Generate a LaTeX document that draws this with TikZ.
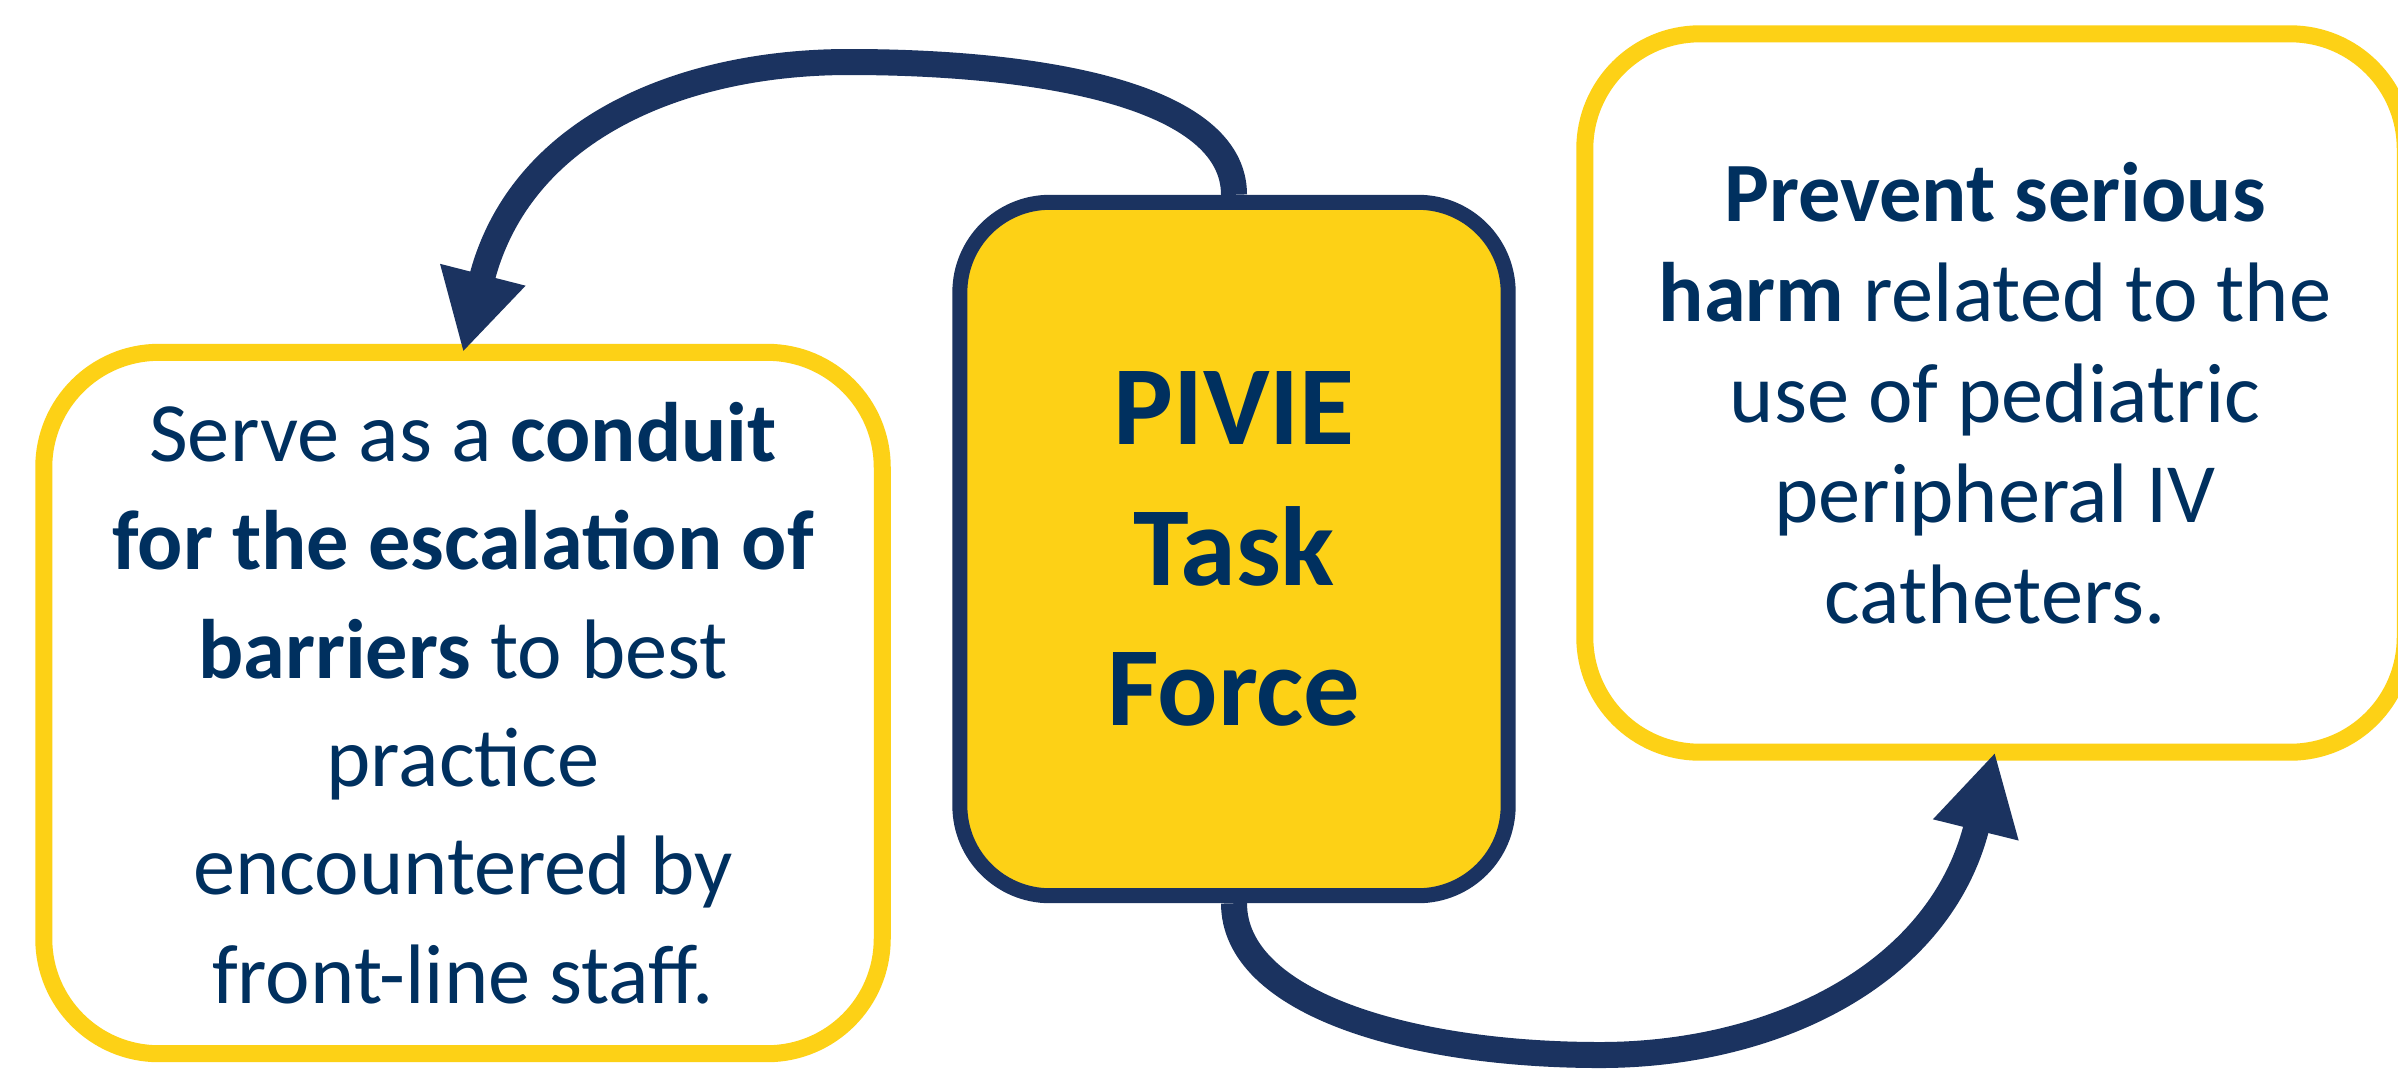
\documentclass[tikz,border=0pt]{standalone}
\usepackage{fontspec}
\setmainfont{Carlito}
\usetikzlibrary{arrows.meta}
\definecolor{pnavy}{HTML}{1B3360}
\definecolor{ptext}{HTML}{00305F}
\definecolor{pgold}{HTML}{FDD116}

\begin{document}
\begin{tikzpicture}
[x=0.01cm, y=-0.01cm,
  aimbox/.style={draw=pgold, line width=0.17cm, rounded corners=1.15cm, fill=white,
    text=ptext, align=center, outer sep=0pt},
  corebox/.style={draw=pnavy, line width=0.15cm, rounded corners=0.9cm, fill=pgold,
    text=ptext, align=center, font=\fontsize{32}{40}\selectfont\bfseries,
    minimum width=5.48cm, minimum height=6.93cm},
  loop/.style={pnavy, line width=0.26cm, -{Triangle[length=0.8cm,width=0.82cm]}}]
  \fill[white] (0,0) rectangle (2398,1072);
  \useasboundingbox (0,0) rectangle (2398,1072);

  \node[corebox] (task) at (1234,549) {PIVIE\\Task\\Force};
  \node[aimbox, minimum width=8.38cm, minimum height=7.01cm,
    font=\fontsize{24}{30.8}\selectfont] (escalate) at (463,703)
    {Serve as a \textbf{conduit}\\\textbf{for the escalation of}\\\textbf{barriers} to best\\
     practice\\encountered by\\front-line staff.};
  \node[aimbox, minimum width=8.2cm, minimum height=7.18cm,
    font=\fontsize{24}{28.6}\selectfont] (prevent) at (1995,393)
    {\textbf{Prevent serious}\\\textbf{harm} related to the\\use of pediatric\\
     peripheral IV\\catheters.};

  \coordinate (topbend) at (849,62);
  \coordinate (lowbend) at (1600,1055);
  \draw[loop] (task.north) .. controls +(0,-100) and +(190,0) .. (topbend)
    .. controls +(-169,0) and +(57,-223) .. (escalate.north);
  \draw[loop] (task.south) .. controls +(0,100) and +(-190,0) .. (lowbend)
    .. controls +(175,0) and +(-55,222) .. (prevent.south);
\end{tikzpicture}
\end{document}
